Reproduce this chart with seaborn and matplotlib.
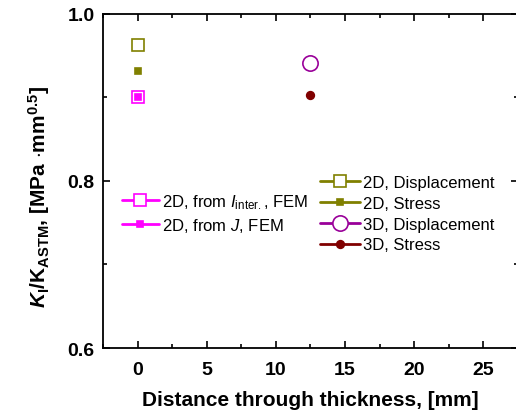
import numpy as np
import pandas as pd
import matplotlib
matplotlib.use("Agg")
import matplotlib.pyplot as plt
import seaborn as sns
from matplotlib.ticker import MultipleLocator

# data
series = ["2D, from $\\mathit{I}_{\\mathrm{inter.}}$, FEM", "2D, from $\\mathit{J}$, FEM",
          "2D, Displacement", "2D, Stress", "3D, Displacement", "3D, Stress"]
thickness = [0.0, 0.0, 0.0, 0.0, 12.5, 12.5]
k_ratio = [0.900, 0.900, 0.963, 0.932, 0.941, 0.903]

colors = ["#FF00FF", "#FF00FF", "#808000", "#808000", "#990099", "#800000"]
markers = ["s", "s", "s", "s", "o", "o"]
msizes = [8.5, 4.8, 8.5, 4.8, 11, 5.5]
filled = [False, True, False, True, False, True]

df = pd.DataFrame({"series": series, "x": thickness, "y": k_ratio})

sns.set_theme(style="ticks")
plt.rcParams["font.family"] = ["Liberation Sans", "DejaVu Sans"]
plt.rcParams["mathtext.fontset"] = "custom"
plt.rcParams["mathtext.rm"] = "Liberation Sans"
plt.rcParams["mathtext.it"] = "Liberation Sans:italic"
plt.rcParams["mathtext.bf"] = "Liberation Sans:bold"
plt.rcParams["mathtext.bfit"] = "Liberation Sans:bold:italic"
for key in ["text.color", "axes.labelcolor", "xtick.color", "ytick.color", "axes.edgecolor"]:
    plt.rcParams[key] = "black"

fig = plt.figure(figsize=(5.16, 4.14), dpi=100)
ax = fig.add_axes([0.1996, 0.157, 0.804, 0.8068])

handles = []
for i, name in enumerate(series):
    sub = df[df["series"] == name]
    sns.lineplot(data=sub, x="x", y="y", ax=ax, color=colors[i],
                 marker=markers[i], markersize=msizes[i],
                 markerfacecolor=colors[i] if filled[i] else "white",
                 markeredgecolor=colors[i], markeredgewidth=1.2,
                 linewidth=2, label=name, legend=False)
    handles.append(ax.lines[-1])

ax.set_xlim(-2.5, 27.5)
ax.set_ylim(0.6, 1.0)
ax.xaxis.set_major_locator(MultipleLocator(5))
ax.xaxis.set_minor_locator(MultipleLocator(2.5))
ax.yaxis.set_major_locator(MultipleLocator(0.2))
ax.yaxis.set_minor_locator(MultipleLocator(0.1))
ax.tick_params(which="both", direction="in", top=True, right=True, width=1.2)
ax.tick_params(which="major", length=5, labelsize=14)
ax.tick_params(axis="x", which="major", pad=9)
ax.tick_params(axis="y", which="major", pad=6)
ax.tick_params(which="minor", length=3)
for lab in ax.get_xticklabels() + ax.get_yticklabels():
    lab.set_fontweight("bold")
for sp in ax.spines.values():
    sp.set_linewidth(1.3)

ax.set_xlabel("Distance through thickness, [mm]", fontsize=15, fontweight="bold", labelpad=9)
ax.set_ylabel(r"$\mathbfit{K}_\mathbf{I}$/K$_\mathbf{ASTM}$, [MPa $\cdot$mm$^\mathbf{0.5}$]",
              fontsize=15, fontweight="bold")
ax.yaxis.set_label_coords(-0.123, 0.455)

leg1 = ax.legend(handles=handles[:2], labels=series[:2], loc="upper left",
                 bbox_to_anchor=(122 / 516, 1 - 193 / 414), bbox_transform=fig.transFigure,
                 frameon=False, fontsize=12, handlelength=2.2, handletextpad=0.2,
                 borderpad=0, borderaxespad=0, labelspacing=0.3)
ax.add_artist(leg1)
ax.legend(handles=handles[2:], labels=series[2:], loc="upper left",
          bbox_to_anchor=(320 / 516, 1 - 176 / 414), bbox_transform=fig.transFigure,
          frameon=False, fontsize=12, handlelength=2.4, handletextpad=0.2,
          borderpad=0, borderaxespad=0, labelspacing=0.35)

fig.savefig("out.png", dpi=100)
